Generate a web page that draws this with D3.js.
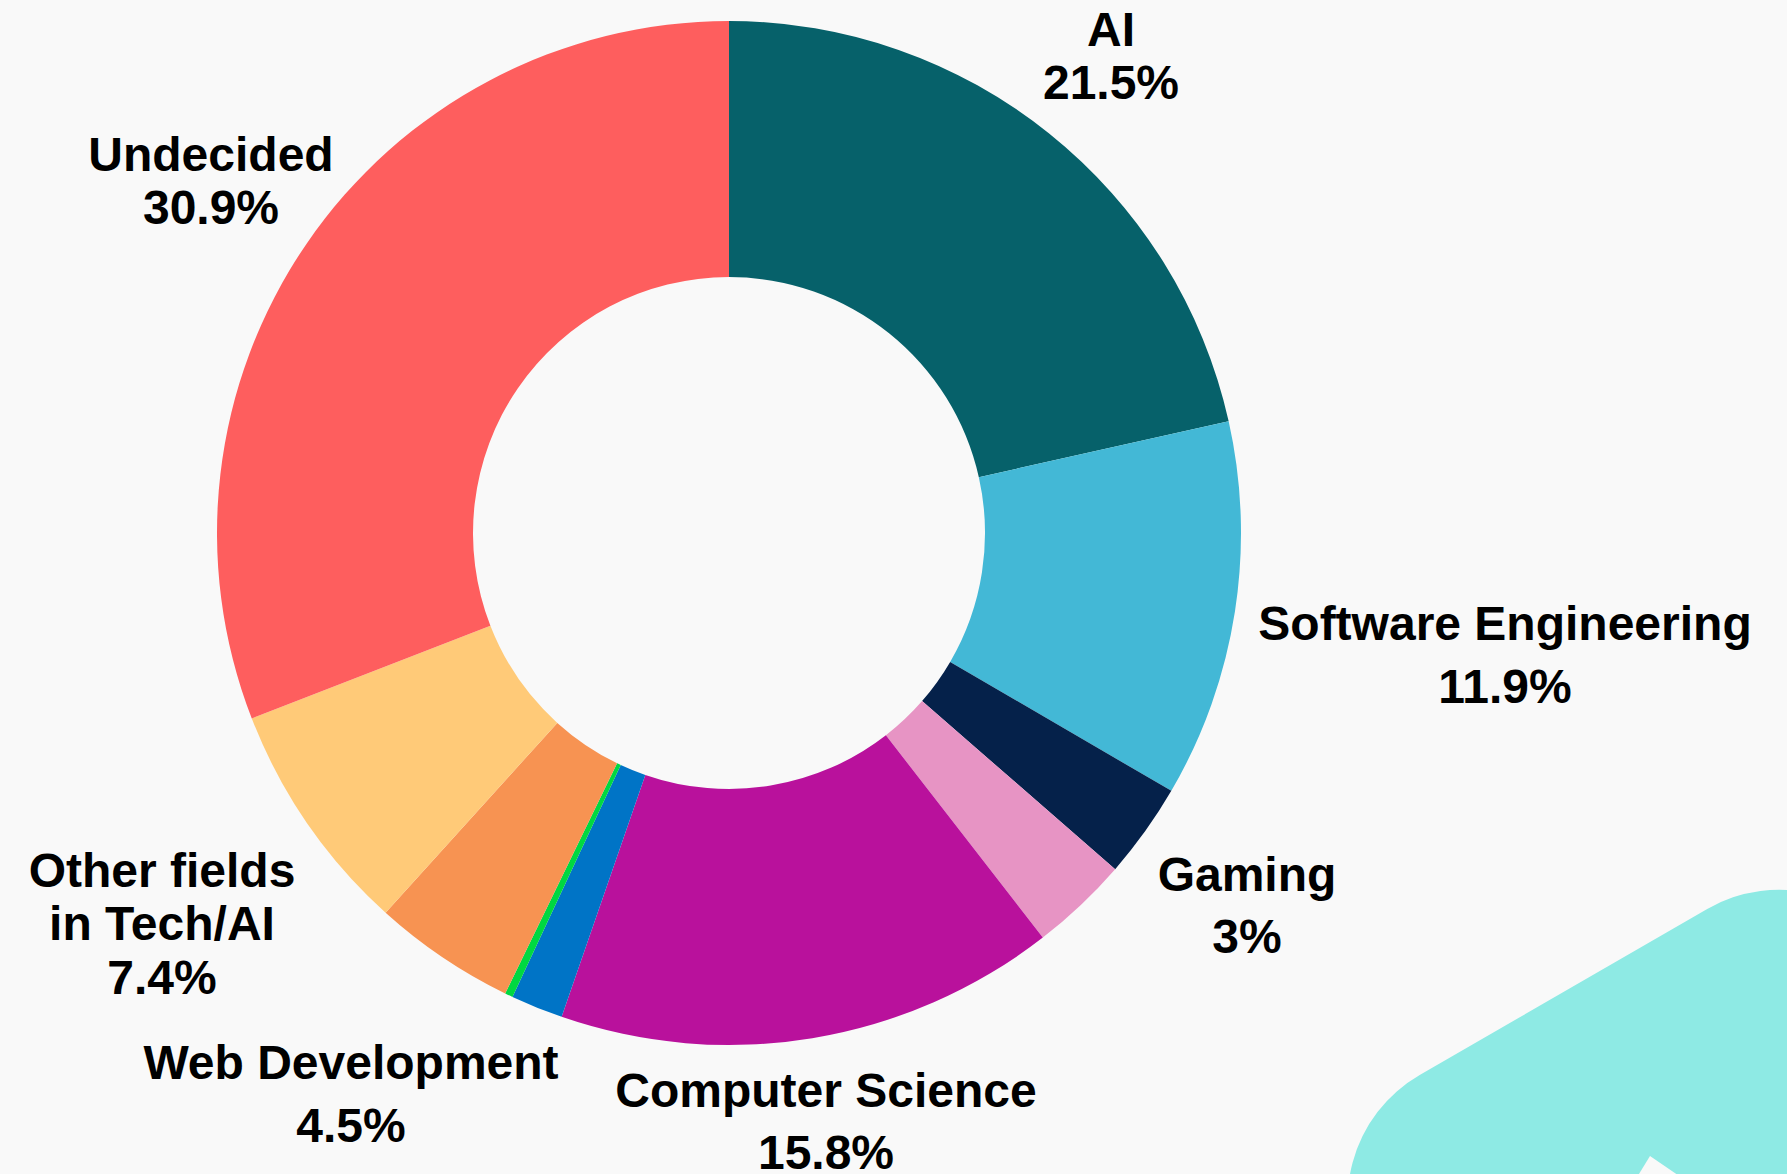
<!DOCTYPE html>
<html>
<head>
<meta charset="utf-8">
<script src="https://cdn.jsdelivr.net/npm/d3@7"></script>
<style>
  html, body { margin: 0; padding: 0; background: #f9f9f9; }
  svg { display: block; }
  .lbl { font-family: "Liberation Sans", Arial, sans-serif; font-weight: bold; font-size: 48px; fill: #000; }
</style>
</head>
<body>
<div id="chart"></div>
<script>
// slices, clockwise from 12 o'clock
const categories = [
  "AI", "Software Engineering", "Gaming", "Unlabeled (pink)",
  "Computer Science", "Unlabeled (blue)", "Unlabeled (green)",
  "Web Development", "Other fields in Tech/AI", "Undecided"
];
const shares = [21.5, 11.9, 3, 3.1, 15.8, 1.65, 0.25, 4.5, 7.4, 30.9];
const colors = [
  "#06616a", "#43b8d6", "#05214a", "#e794c4",
  "#b9119c", "#0074c6", "#00d841",
  "#f79352", "#ffca78", "#fe5e5e"
];
// label lines (null = no label shown)
const labelLines = [
  ["AI"], ["Software Engineering"], ["Gaming"], null,
  ["Computer Science"], null, null,
  ["Web Development"], ["Other fields", "in Tech/AI"], ["Undecided"]
];

const width = 1787, height = 1174;
const cx = 729, cy = 533, outerR = 512, innerR = 256;

// where each outside label sits: x centre and baseline of each line
const labelPos = {
  "AI":                      { x: 1111, ys: [46, 99] },
  "Software Engineering":    { x: 1505, ys: [640, 703] },
  "Gaming":                  { x: 1247, ys: [891, 953] },
  "Computer Science":        { x: 826,  ys: [1107, 1169] },
  "Web Development":         { x: 351,  ys: [1079, 1142] },
  "Other fields in Tech/AI": { x: 162,  ys: [887, 940, 994] },
  "Undecided":               { x: 211,  ys: [171, 224] }
};

const data = categories.map((c, i) => ({ name: c, value: shares[i], color: colors[i], lines: labelLines[i] }));

const svg = d3.select("#chart").append("svg")
  .attr("width", width)
  .attr("height", height);

svg.append("rect").attr("width", width).attr("height", height).attr("fill", "#f9f9f9");

//------------------------------------------------------//
// decorative logo shape, bottom right
//------------------------------------------------------//
const deco = svg.append("g").attr("transform", "translate(1295,1147) rotate(-30)");
deco.append("rect")
  .attr("x", 0).attr("y", 0)
  .attr("width", 620).attr("height", 600)
  .attr("rx", 144).attr("ry", 144)
  .attr("fill", "#8eeae4");
svg.append("path")
  .attr("d", "M1650,1156 L1615,1200 L1700,1200 Z")
  .attr("transform", "rotate(-7,1650,1156)")
  .attr("fill", "#f9f9f9");

//------------------------------------------------------//
// donut
//------------------------------------------------------//
const pie = d3.pie().sort(null).value(d => d.value);
const arc = d3.arc().innerRadius(innerR).outerRadius(outerR);

const g = svg.append("g").attr("transform", `translate(${cx},${cy})`);
g.selectAll("path.slice")
  .data(pie(data))
  .join("path")
  .attr("class", "slice")
  .attr("d", arc)
  .attr("fill", d => d.data.color);

//------------------------------------------------------//
// outside labels
//------------------------------------------------------//
data.filter(d => d.lines).forEach(d => {
  const p = labelPos[d.name];
  const lines = d.lines.concat([`${d.value}%`]);
  const t = svg.append("text").attr("class", "lbl").attr("text-anchor", "middle");
  lines.forEach((ln, i) => {
    t.append("tspan").attr("x", p.x).attr("y", p.ys[i]).text(ln);
  });
});
</script>
</body>
</html>
